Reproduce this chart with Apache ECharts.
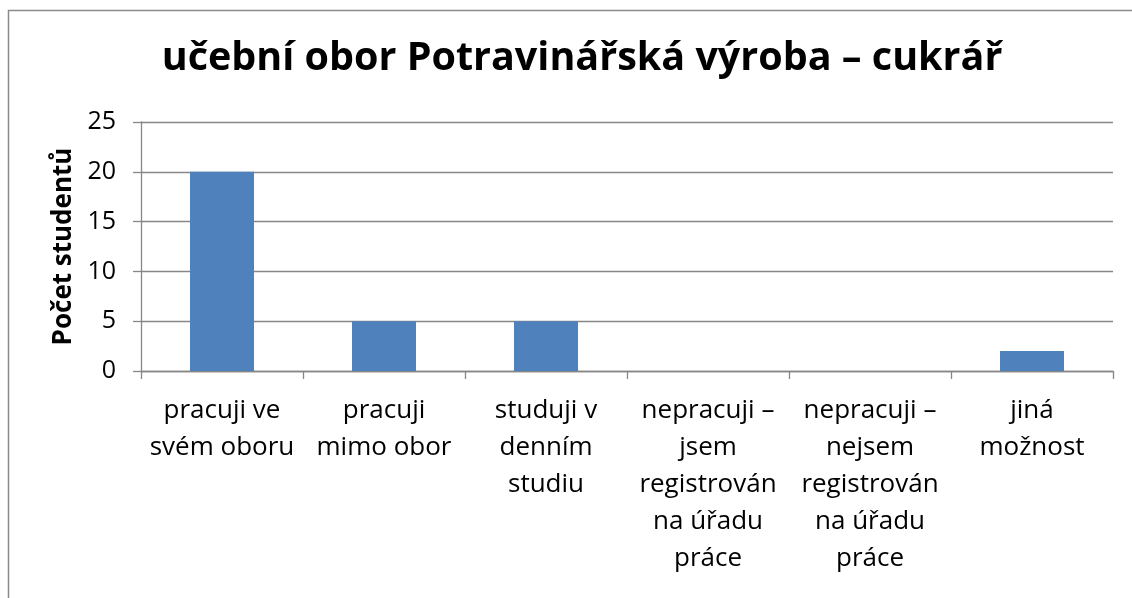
<!DOCTYPE html>
<html>
<head>
<meta charset="utf-8">
<script src="https://cdn.jsdelivr.net/npm/echarts@6/dist/echarts.min.js"></script>
<style>
html,body{margin:0;padding:0;background:#fff;}
#c{width:1132px;height:598px;}
</style>
</head>
<body>
<div id="c"></div>
<script>
const titleText = 'učební obor Potravinářská výroba – cukrář';
const yAxisName = 'Počet studentů';
const categories = [
  'pracuji ve\nsvém oboru',
  'pracuji\nmimo obor',
  'studuji v\ndenním\nstudiu',
  'nepracuji –\njsem\nregistrován\nna úřadu\npráce',
  'nepracuji –\nnejsem\nregistrován\nna úřadu\npráce',
  'jiná\nmožnost'
];
const values = [20, 5, 5, 0, 0, 2];
const yMin = 0, yMax = 25, yStep = 5;

const chart = echarts.init(document.getElementById('c'), null, {renderer: 'canvas'});
const font = '"Open Sans", "Noto Sans", sans-serif';
const gridColor = '#878787';
chart.setOption({
  animation: false,
  backgroundColor: '#fff',
  graphic: [{
    type: 'rect',
    shape: {x: 8.5, y: 10.5, width: 1300, height: 800},
    style: {fill: 'none', stroke: '#8a8a8a', lineWidth: 1.5},
    silent: true, z: -10
  }],
  title: {
    text: titleText,
    left: 577, top: 34, textAlign: 'center',
    textStyle: {fontFamily: font, fontWeight: 'bold', fontSize: 39.5, color: '#000'}
  },
  grid: {left: 141, right: 19, top: 122, bottom: 227},
  xAxis: {
    type: 'category',
    data: categories,
    boundaryGap: true,
    axisLine: {lineStyle: {color: gridColor, width: 1.3}},
    axisTick: {show: true, length: 8, alignWithLabel: false, lineStyle: {color: gridColor, width: 1.3}},
    axisLabel: {
      interval: 0, margin: 21,
      fontFamily: font, fontSize: 26, color: '#000', lineHeight: 37
    }
  },
  yAxis: {
    type: 'value',
    min: yMin, max: yMax, interval: yStep,
    name: yAxisName,
    nameLocation: 'middle',
    nameGap: 60,
    nameRotate: 90,
    nameTextStyle: {fontFamily: font, fontWeight: 'bold', fontSize: 26, color: '#000'},
    axisLine: {show: true, lineStyle: {color: gridColor, width: 1.3}},
    axisTick: {show: true, length: 8, lineStyle: {color: gridColor, width: 1.3}},
    splitLine: {show: true, lineStyle: {color: gridColor, width: 1.3}},
    axisLabel: {margin: 25, fontFamily: font, fontSize: 25, color: '#000'}
  },
  series: [{
    type: 'bar',
    data: values,
    barWidth: 64,
    itemStyle: {color: '#4F81BD'}
  }]
});
</script>
</body>
</html>
